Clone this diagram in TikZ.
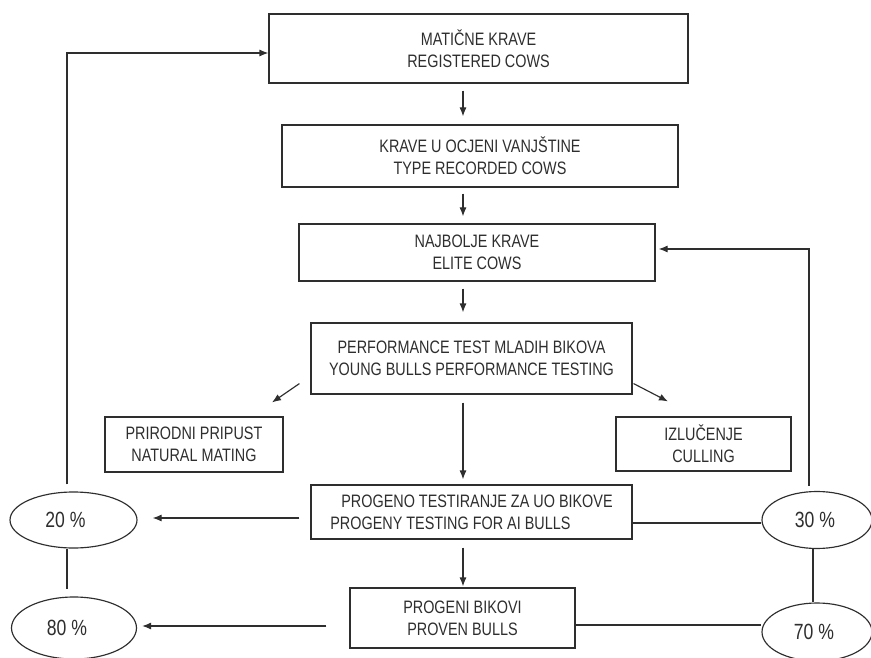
\documentclass[tikz,border=0pt]{standalone}
\usepackage{fontspec}
\setmainfont{Liberation Sans}[FakeStretch=0.8]
\usetikzlibrary{arrows.meta,shapes.geometric}
\definecolor{ink}{HTML}{2E2E2E}
\begin{document}
\begin{tikzpicture}[x=1pt,y=-1pt,
  line width=1.15pt, draw=ink, text=ink,
  stepbox/.style={draw=ink, rectangle, inner sep=0pt, align=center,
    font=\fontsize{18}{22}\selectfont},
  share/.style={draw=ink, ellipse, inner sep=0pt,
    font=\fontsize{22}{24}\selectfont},
  arr/.style={-{Latex[length=9pt,width=7pt]}}]
\useasboundingbox[fill=white] (0,0) rectangle (871,658);

% main column of boxes
\node[stepbox, minimum width=419pt, minimum height=69pt] (b1) at (478.5,48.5)
  {MATIČNE KRAVE\\REGISTERED COWS};
\node[stepbox, minimum width=396pt, minimum height=62pt] (b2) at (480,156)
  {KRAVE U OCJENI VANJŠTINE\\TYPE RECORDED COWS};
\node[stepbox, minimum width=356pt, minimum height=57pt] (b3) at (477,252.5)
  {NAJBOLJE KRAVE\\ELITE COWS};
\node[stepbox, minimum width=321pt, minimum height=71pt] (b4) at (471.5,358.5)
  {PERFORMANCE TEST MLADIH BIKOVA\\YOUNG BULLS PERFORMANCE TESTING};
\node[stepbox, minimum width=178pt, minimum height=55pt] (b5) at (194,444.5)
  {PRIRODNI PRIPUST\\NATURAL MATING};
\node[stepbox, minimum width=175pt, minimum height=54pt] (b8) at (703.5,444)
  {IZLUČENJE\\CULLING};
\node[stepbox, minimum width=321pt, minimum height=54pt, align=left] (b6) at (471.5,512)
  {\hspace*{11pt}PROGENO TESTIRANJE ZA UO BIKOVE\\PROGENY TESTING FOR AI BULLS\hspace*{10pt}};
\node[stepbox, minimum width=225pt, minimum height=60pt] (b7) at (462.5,618)
  {PROGENI BIKOVI\\PROVEN BULLS};

% shares (labels sit a little left of centre)
\node[share, minimum width=127pt, minimum height=56pt] (e20) at (73.5,520) {20 \%\hspace*{16pt}};
\node[share, minimum width=125pt, minimum height=62pt] (e80) at (74,628) {80 \%\hspace*{14pt}};
\node[share, minimum width=110pt, minimum height=57pt] (e30) at (817,520) {30 \%\hspace*{4pt}};
\node[share, minimum width=110pt, minimum height=58pt] (e70) at (817,632) {70 \%\hspace*{6pt}};

% axis of the main column
\coordinate (ax) at (463,0);

% downward flow
\draw[arr] ([yshift=-7pt]b1.south -| ax) -- ([yshift=8pt]b2.north -| ax);
\draw[arr] ([yshift=-6pt]b2.south -| ax) -- ([yshift=7pt]b3.north -| ax);
\draw[arr] ([yshift=-7pt]b3.south -| ax) -- ([yshift=10pt]b4.north -| ax);
\draw[arr] ([yshift=-8pt]b4.south -| ax) -- ([yshift=5pt]b6.north -| ax);
\draw[arr] ([yshift=-8pt]b6.south -| ax) -- ([yshift=1pt]b7.north -| ax);

% side branches
\draw[arr] ([xshift=-11pt,yshift=11pt]b4.south west) -- ([xshift=78pt,yshift=14pt]b5.north);
\draw[arr] ([xshift=1pt,yshift=11pt]b4.south east) -- ([xshift=-35.5pt,yshift=15pt]b8.north);

% outputs to the shares
\draw[arr] ([xshift=-11pt,yshift=-6pt]b6.west) -- ([xshift=15pt,yshift=-6pt]b6.west -| e20.east);
\draw ([yshift=-11pt]b6.east) -- ([yshift=-11pt]b6.east -| e30.west);
\draw[arr] ([xshift=-23pt,yshift=-8pt]b7.west) -- ([xshift=5pt,yshift=-8pt]b7.west -| e80.east);
\draw ([yshift=-7pt]b7.east) -- ([yshift=-7pt]b7.east -| e70.west);

% links between shares
\draw ([xshift=-6.5pt]e20.south) -- ([xshift=-7pt,yshift=7pt]e80.north);
\draw ([xshift=-4pt]e30.south) -- ([xshift=-4pt]e70.north);

% feedback loops
\draw[arr] ([xshift=-6.5pt,yshift=7pt]e20.north) |- ([yshift=-4.5pt]b1.west);
\draw[arr] ([xshift=-8pt,yshift=5pt]e30.north) |- ([xshift=3pt,yshift=3.5pt]b3.east);
\end{tikzpicture}
\end{document}
